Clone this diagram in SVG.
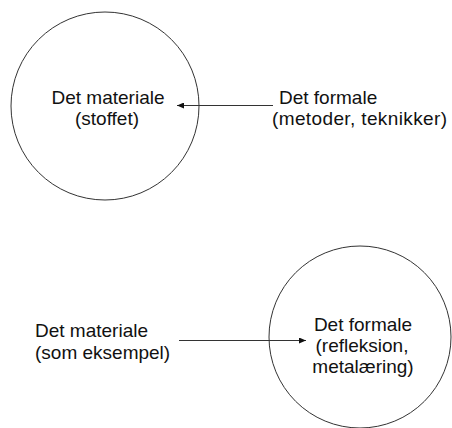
<svg xmlns="http://www.w3.org/2000/svg" width="452" height="428" viewBox="0 0 452 428">
<style>
.c{fill:none;stroke:#333;stroke-width:1}
.t{font-family:"Liberation Sans",Arial,sans-serif;font-size:19px;fill:#111}
.m{text-anchor:middle}
.l{stroke:#333;stroke-width:1;fill:none}
</style>
<defs>
<marker id="ah" markerWidth="8" markerHeight="6" refX="7" refY="3" orient="auto" markerUnits="userSpaceOnUse">
<path d="M0,0 L7,3 L0,6 Z" fill="#111"/>
</marker>
</defs>
<rect width="452" height="428" fill="#fff"/>
<g id="top-material">
<circle class="c" cx="105" cy="106" r="94"/>
<text class="t m" x="108" y="104">Det materiale</text>
<text class="t m" x="107" y="125">(stoffet)</text>
</g>
<g id="top-formal">
<text class="t" x="279" y="104">Det formale</text>
<text class="t" x="272" y="125" textLength="175" lengthAdjust="spacing">(metoder, teknikker)</text>
</g>
<g id="bottom-material">
<text class="t" x="35" y="337">Det materiale</text>
<text class="t" x="35" y="359">(som eksempel)</text>
</g>
<g id="bottom-formal">
<circle class="c" cx="360" cy="337" r="91"/>
<text class="t m" x="363" y="331">Det formale</text>
<text class="t m" x="362" y="352">(refleksion,</text>
<text class="t m" x="363" y="373">metalæring)</text>
</g>
<g id="connectors">
<line class="l" x1="273" y1="105.5" x2="177" y2="105.5" marker-end="url(#ah)"/>
<line class="l" x1="179" y1="340.5" x2="306" y2="340.5" marker-end="url(#ah)"/>
</g>
</svg>
